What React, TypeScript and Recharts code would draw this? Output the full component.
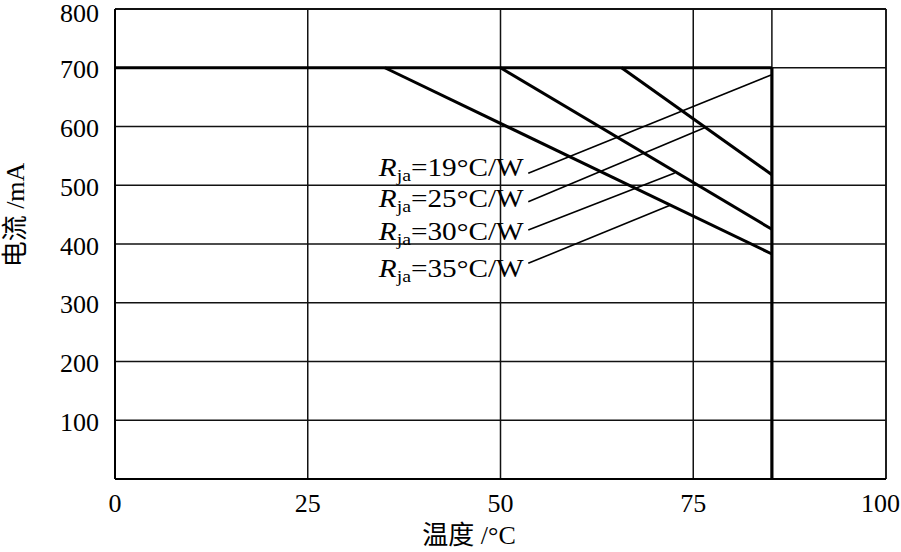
import React from 'react';
import {
  ComposedChart, Line, XAxis, YAxis, CartesianGrid, ReferenceLine, Scatter,
} from 'recharts';

// Temperature (°C) axis ticks and current (mA) axis ticks
const xTicks = [0, 25, 50, 75, 100];
const yTicks = [0, 100, 200, 300, 400, 500, 600, 700, 800];

// Derating curves: [temperature, current]
const curve19 = [{ t: 0, i: 700 }, { t: 85.2, i: 700 }];
const curve25 = [{ t: 65.7, i: 700 }, { t: 85.2, i: 518 }];
const curve30 = [{ t: 50, i: 700 }, { t: 85.2, i: 425 }];
const curve35 = [{ t: 35, i: 700 }, { t: 85.2, i: 383 }];
const tmaxLine = [{ t: 85.2, i: 0 }, { t: 85.2, i: 700 }];

// Label texts and anchor points (right end, baseline)
const labelTexts = ['19', '25', '30', '35'];
const labelAnchors = [
  { t: 53.0, i: 515.7, k: 0 },
  { t: 53.0, i: 463.5, k: 1 },
  { t: 53.0, i: 406.8, k: 2 },
  { t: 53.0, i: 344.3, k: 3 },
];
// Leader lines from labels to curves
const leaders = [
  [{ x: 53.6, y: 520.3 }, { x: 85.1, y: 687.7 }],
  [{ x: 53.6, y: 472 }, { x: 76.7, y: 599 }],
  [{ x: 53.6, y: 423.8 }, { x: 72.6, y: 521 }],
  [{ x: 53.6, y: 367.1 }, { x: 72.0, y: 466 }],
];

const SERIF = '"Liberation Serif", "Times New Roman", "Noto Sans CJK SC", serif';

const LabelShape = (props: any) => {
  const { cx, cy, payload } = props;
  if (cx == null || cy == null) return null;
  const v = labelTexts[payload.k];
  return (
    <g transform={`translate(${cx},${cy}) scale(1.17,1)`}>
      <text x={0} y={0} textAnchor="end" fontFamily={SERIF} fontSize={25} fill="#000">
        <tspan fontStyle="italic">R</tspan>
        <tspan fontSize={17} dy={5}>ja</tspan>
        <tspan dy={-5}>{`=${v}°C/W`}</tspan>
      </text>
    </g>
  );
};

const YTick = (props: any) => {
  const { x, y, payload } = props;
  if (payload.value === 0) return null;
  const top = payload.value === 800;
  return (
    <text
      x={x - 8} y={y} dy={top ? 13 : 10.5} textAnchor="end"
      fontFamily={SERIF} fontSize={26} fill="#000"
    >
      {payload.value}
    </text>
  );
};

const XTick = (props: any) => {
  const { x, y, payload } = props;
  const last = payload.value === 100;
  return (
    <text
      x={last ? 900 : x} y={y + 6} dy={19} textAnchor={last ? 'end' : 'middle'}
      fontFamily={SERIF} fontSize={26} fill="#000"
    >
      {payload.value}
    </text>
  );
};

export default function App() {
  return (
    <div style={{ position: 'absolute', left: 0, top: 0, background: '#fff' }}>
      <ComposedChart width={901} height={552} margin={{ top: 9, right: 15, left: 0, bottom: 0 }}>
        <CartesianGrid stroke="#111" strokeWidth={1.5} horizontalValues={yTicks} verticalValues={xTicks} />
        <XAxis
          type="number" dataKey="t" domain={[0, 100]} ticks={xTicks} height={73}
          axisLine={{ stroke: '#000', strokeWidth: 2 }} tickLine={false} tick={<XTick />}
          allowDataOverflow
        />
        <YAxis
          type="number" dataKey="i" domain={[0, 800]} ticks={yTicks} width={115}
          axisLine={{ stroke: '#000', strokeWidth: 2 }} tickLine={false} tick={<YTick />}
          allowDataOverflow
        />
        <ReferenceLine x={85.2} stroke="#111" strokeWidth={1.5} />
        <ReferenceLine y={800} stroke="#111" strokeWidth={2} />
        <ReferenceLine x={100} stroke="#111" strokeWidth={1.5} />
        {leaders.map((seg, idx) => (
          <ReferenceLine key={idx} segment={seg} stroke="#000" strokeWidth={1.6} />
        ))}
        <Line data={curve19} dataKey="i" stroke="#000" strokeWidth={3.2} dot={false} isAnimationActive={false} />
        <Line data={curve25} dataKey="i" stroke="#000" strokeWidth={3} dot={false} isAnimationActive={false} />
        <Line data={curve30} dataKey="i" stroke="#000" strokeWidth={3} dot={false} isAnimationActive={false} />
        <Line data={curve35} dataKey="i" stroke="#000" strokeWidth={3} dot={false} isAnimationActive={false} />
        <Line data={tmaxLine} dataKey="i" stroke="#000" strokeWidth={3.2} dot={false} isAnimationActive={false} />
        <Scatter data={labelAnchors} dataKey="i" shape={<LabelShape />} isAnimationActive={false} />
        <text x={469} y={544} textAnchor="middle" fontFamily={SERIF} fontSize={26} fill="#000">温度 /°C</text>
        <text
          x={0} y={0} transform="translate(24,215) rotate(-90)" textAnchor="middle"
          fontFamily={SERIF} fontSize={26} fill="#000"
        >电流 /mA</text>
      </ComposedChart>
    </div>
  );
}
